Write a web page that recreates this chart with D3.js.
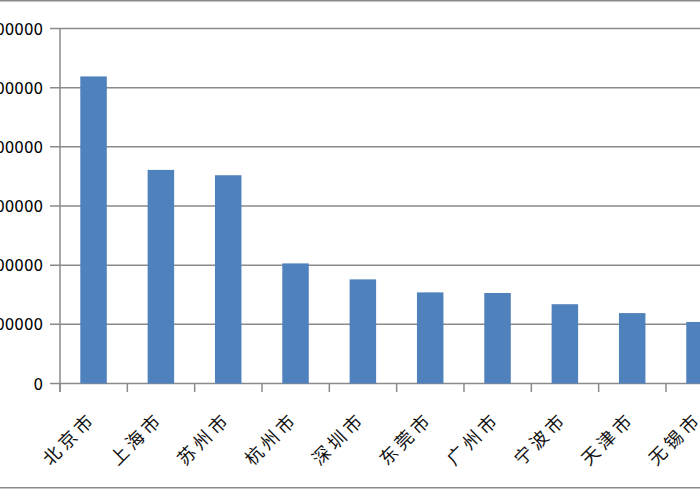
<!DOCTYPE html>
<html><head><meta charset="utf-8">
<script src="https://cdn.jsdelivr.net/npm/d3@7/dist/d3.min.js"></script>
<style>body{margin:0;background:#fff}svg{display:block}</style>
</head><body>
<svg id="c" width="700" height="490"></svg>
<script>
const categories = ["北京市","上海市","苏州市","杭州市","深圳市","东莞市","广州市","宁波市","天津市","无锡市"];
const values = [519000, 361000, 352000, 203000, 176000, 154000, 153000, 134000, 119000, 104000];
const yTicks = [0, 100000, 200000, 300000, 400000, 500000, 600000];

const svg = d3.select("#c");
const W = 700, H = 490;
const left = 60, bandW = 67.33;
const x = d3.scaleBand().domain(categories).range([left, left + bandW * categories.length]).paddingInner(0).paddingOuter(0);
const y = d3.scaleLinear().domain([0, 600000]).range([383.5, 28.5]);
const grey = "#8a8a8a";

// outer chart border (only top/bottom visible)
svg.append("rect").attr("x", -10).attr("y", 0.75).attr("width", W + 20).attr("height", 487)
  .attr("fill", "none").attr("stroke", grey).attr("stroke-width", 1.5);

// gridlines
svg.append("g").selectAll("line").data(yTicks).join("line")
  .attr("x1", 50).attr("x2", W + 10)
  .attr("y1", d => y(d)).attr("y2", d => y(d))
  .attr("stroke", grey).attr("stroke-width", 1.5);

// bars
const barW = 26.5, barOff = 20.3;
svg.append("g").selectAll("rect").data(categories).join("rect")
  .attr("x", d => x(d) + barOff)
  .attr("width", barW)
  .attr("y", (d, i) => y(values[i]))
  .attr("height", (d, i) => y(0) - y(values[i]))
  .attr("fill", "#4F81BD");

// y axis line
svg.append("line").attr("x1", left).attr("x2", left).attr("y1", y(600000)).attr("y2", 392)
  .attr("stroke", grey).attr("stroke-width", 1.5);

// x axis ticks
const bounds = categories.map(d => x(d)).concat([x(categories[categories.length-1]) + bandW]);
svg.append("g").selectAll("line").data(bounds).join("line")
  .attr("x1", d => d).attr("x2", d => d).attr("y1", y(0)).attr("y2", 392)
  .attr("stroke", grey).attr("stroke-width", 1.5);

// y labels
svg.append("g").selectAll("text").data(yTicks).join("text")
  .attr("x", 43).attr("y", d => y(d) + 1)
  .attr("text-anchor", "end").attr("dominant-baseline", "central")
  .attr("font-family", "DejaVu Sans, Verdana, sans-serif").attr("font-size", 15)
  .attr("fill", "#000")
  .text(d => d);

// x labels rotated
svg.append("g").selectAll("g").data(categories).join("g")
  .attr("transform", d => `translate(${x(d) + bandW/2 - 27},439) rotate(-45)`)
  .append("text")
  .attr("x", -31).attr("y", 0)
  .attr("text-anchor", "start").attr("dominant-baseline", "central")
  .attr("font-family", "Noto Sans CJK SC, sans-serif").attr("font-size", 18)
  .attr("letter-spacing", 4)
  .attr("fill", "#111")
  .text(d => d);
</script>
</body></html>
